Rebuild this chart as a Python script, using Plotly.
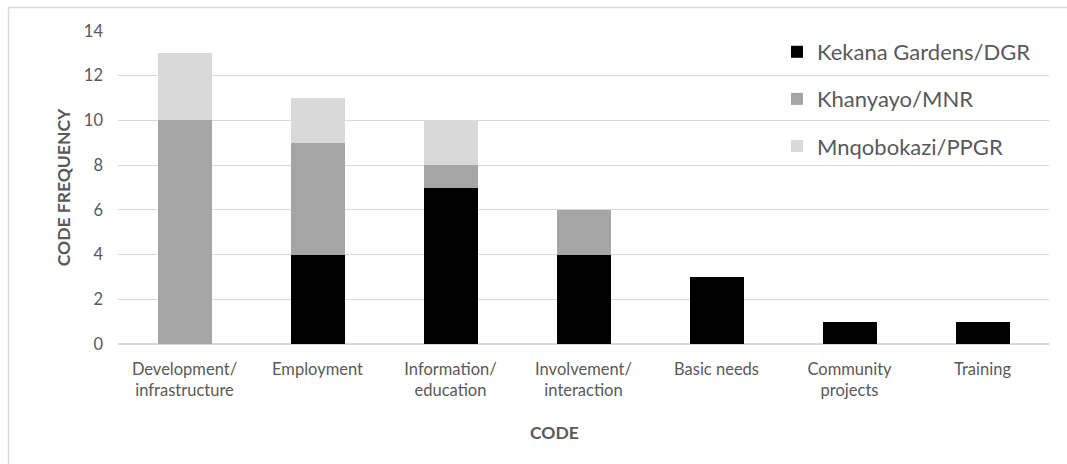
import plotly.graph_objects as go

categories = ["Development/<br>infrastructure", "Employment", "Information/<br>education",
              "Involvement/<br>interaction", "Basic needs", "Community<br>projects", "Training"]
kekana = [0, 4, 7, 4, 3, 1, 1]
khanyayo = [10, 5, 1, 2, 0, 0, 0]
mnqobokazi = [3, 2, 2, 0, 0, 0, 0]
series_names = ["Kekana Gardens/DGR", "Khanyayo/MNR", "Mnqobokazi/PPGR"]
series_colors = ["#000000", "#a5a5a5", "#d9d9d9"]
y_ticks = [0, 2, 4, 6, 8, 10, 12, 14]

FONT = "Lato"
TXT = "#595959"

fig = go.Figure()
for name, vals, col in zip(series_names, [kekana, khanyayo, mnqobokazi], series_colors):
    fig.add_trace(go.Bar(x=categories, y=vals, name=name, marker=dict(color=col, line=dict(width=0)),
                         legendgroup=name))

W, H = 1067, 464
L, R, T, B = 118, 18, 31, 120
pw, ph = W - L - R, H - T - B

def px_x(x):
    return (x - L) / pw

def px_y(y):
    return (H - B - y) / ph

fig.update_layout(
    width=W, height=H,
    margin=dict(l=L, r=R, t=T, b=B),
    barmode="stack", bargap=0.594,
    paper_bgcolor="white", plot_bgcolor="white",
    font=dict(family=FONT, color=TXT, size=16.5),
    legend=dict(x=px_x(777), y=px_y(31), xanchor="left", yanchor="top",
                font=dict(size=22, color=TXT, family=FONT), bgcolor="rgba(0,0,0,0)",
                tracegroupgap=15.5, traceorder="grouped"),
    xaxis=dict(showgrid=False, showline=False, ticks="", tickfont=dict(size=16.5, color=TXT),
               ticklabelstandoff=13),
    yaxis=dict(title=dict(text="<b>CODE FREQUENCY</b>", font=dict(size=17.5, color=TXT), standoff=8),
               range=[0, 14], tickvals=y_ticks, showgrid=True, gridcolor="#d9d9d9", gridwidth=1.2,
               zeroline=True, zerolinecolor="#d9d9d9", zerolinewidth=1.5, showline=False,
               ticks="", tickfont=dict(size=16.5, color=TXT), ticklabelstandoff=14),
    annotations=[dict(text="<b>CODE</b>", xref="paper", yref="paper", x=px_x(554), y=px_y(432),
                      xanchor="center", yanchor="middle", showarrow=False,
                      font=dict(size=17.5, color=TXT, family=FONT))],
    shapes=[dict(type="rect", xref="paper", yref="paper",
                 x0=px_x(8.5), y0=px_y(480), x1=px_x(1080), y1=px_y(7.5),
                 line=dict(color="#d9d9d9", width=1.5), fillcolor="rgba(0,0,0,0)", layer="below")],
    showlegend=True,
)

fig.write_html("out.html")
